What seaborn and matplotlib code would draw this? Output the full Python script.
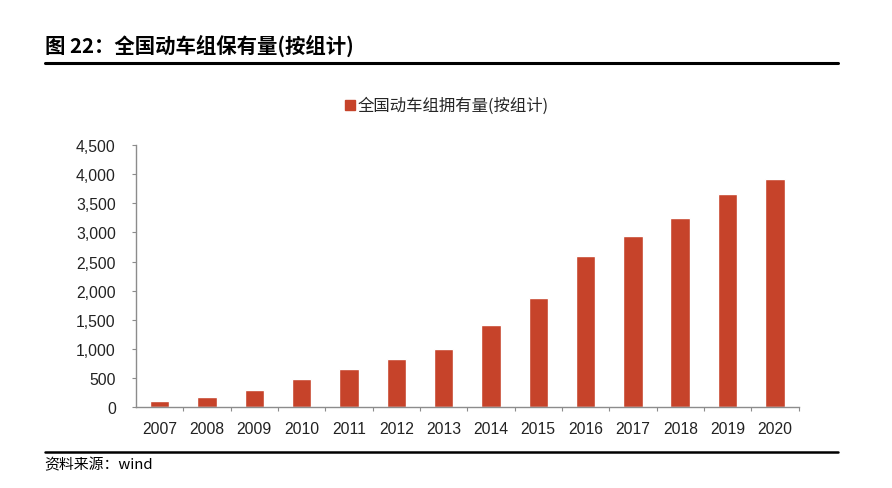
import matplotlib
matplotlib.use("Agg")
import matplotlib.pyplot as plt
import seaborn as sns
import pandas as pd
import numpy as np
from matplotlib.ticker import FuncFormatter, FixedLocator
from matplotlib.lines import Line2D

years = ["2007", "2008", "2009", "2010", "2011", "2012", "2013",
         "2014", "2015", "2016", "2017", "2018", "2019", "2020"]
units = [100, 172, 290, 480, 650, 821, 1003, 1405, 1883, 2595, 2935, 3256, 3665, 3918]
series_name = "全国动车组拥有量(按组计)"
title_text = "图 22：全国动车组保有量(按组计)"
source_text = "资料来源：wind"
yticks = [0, 500, 1000, 1500, 2000, 2500, 3000, 3500, 4000, 4500]

sns.set_theme(style="white")
plt.rcParams['font.family'] = ['Liberation Sans', 'Noto Sans CJK SC', 'DejaVu Sans']

df = pd.DataFrame({"year": years, "units": units})
bar_color = "#C6432A"

fig = plt.figure(figsize=(8.92, 4.89), dpi=100)
ax = fig.add_axes([136 / 892, 1 - 408.3 / 489, 662.5 / 892, 262.3 / 489])

sns.barplot(data=df, x="year", y="units", color=bar_color, width=0.41,
            saturation=1, ax=ax, label=series_name)

ax.set_xlim(-0.5, len(years) - 0.5)
ax.set_ylim(0, 4500)
ax.set_yticks(yticks)
ax.yaxis.set_major_formatter(FuncFormatter(lambda v, p: f"{int(v):,}"))
ax.set_xlabel("")
ax.set_ylabel("")

for s in ["top", "right"]:
    ax.spines[s].set_visible(False)
for s in ["left", "bottom"]:
    ax.spines[s].set_color("#8c8c8c")
    ax.spines[s].set_linewidth(1.0)

ax.tick_params(axis="y", which="major", direction="out", length=3, width=0.8,
               color="#8c8c8c", labelsize=11.3, labelcolor="#222222", pad=11.5, left=True)
ax.tick_params(axis="x", which="major", length=0, labelsize=11.3, labelcolor="#222222", pad=10)
ax.xaxis.set_minor_locator(FixedLocator(np.arange(0.5, len(years) - 0.5, 1.0).tolist() + [len(years) - 0.5]))
ax.tick_params(axis="x", which="minor", direction="out", length=3, width=0.8,
               color="#8c8c8c", bottom=True)
for lab in ax.get_xticklabels() + ax.get_yticklabels():
    lab.set_fontfamily(['Liberation Sans', 'DejaVu Sans'])

leg_handle = Line2D([0], [0], marker="s", linestyle="none", markersize=7.5,
                    markerfacecolor=bar_color, markeredgecolor=bar_color)
fig.legend([leg_handle], [series_name], loc="center", bbox_to_anchor=(0.5, 0.782),
           frameon=False, handletextpad=0.05, handlelength=0.8,
           prop={"family": ["Noto Sans CJK SC", "DejaVu Sans"], "size": 11.8})
if ax.get_legend() is not None:
    ax.get_legend().remove()

fig.text(0.050, 0.906, title_text, fontsize=14.7, fontweight="bold",
         fontfamily=["Noto Sans CJK SC", "DejaVu Sans"], color="#000000", va="center", ha="left")
fig.add_artist(Line2D([0.050, 0.940], [1 - 63.5 / 489, 1 - 63.5 / 489], color="black", linewidth=2.2,
                      transform=fig.transFigure))
fig.add_artist(Line2D([0.050, 0.940], [1 - 453 / 489, 1 - 453 / 489], color="black", linewidth=1.8,
                      transform=fig.transFigure))
fig.text(0.050, 1 - 465 / 489, source_text, fontsize=10.7,
         fontfamily=["Noto Sans CJK SC", "DejaVu Sans"], color="#000000", va="center", ha="left")

fig.savefig("out.png", dpi=100)
